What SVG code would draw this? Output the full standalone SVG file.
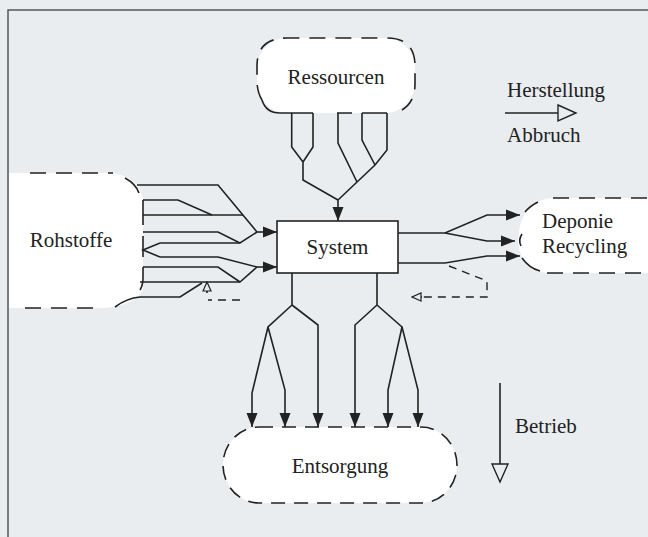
<svg xmlns="http://www.w3.org/2000/svg" width="648" height="537" viewBox="0 0 648 537">
<style>
.t{font-family:"Liberation Serif","Times New Roman",serif;font-size:21px;fill:#222}
.ln{fill:none;stroke:#222;stroke-width:1.6;stroke-linejoin:miter}
.ds{fill:none;stroke:#222;stroke-width:1.6;stroke-dasharray:16 10}
.fb{fill:none;stroke:#222;stroke-width:1.4;stroke-dasharray:8 6}
</style>
<defs>
<marker id="fa" markerUnits="userSpaceOnUse" markerWidth="15" markerHeight="12" refX="14" refY="6" orient="auto">
<path d="M0,0.5 L14,6 L0,11.5 z" fill="#222"/>
</marker>
<marker id="oa" markerUnits="userSpaceOnUse" markerWidth="21" markerHeight="20" refX="19" refY="10" orient="auto">
<path d="M1,2 L19,10 L1,18 z" fill="#e9edf0" stroke="#222" stroke-width="1.4"/>
</marker>
<marker id="sa" markerUnits="userSpaceOnUse" markerWidth="11" markerHeight="11" refX="10" refY="5.5" orient="auto">
<path d="M1,1.5 L10,5.5 L1,9.5 z" fill="#e9edf0" stroke="#222" stroke-width="1.2"/>
</marker>
</defs>
<rect x="0" y="0" width="648" height="537" fill="#e9edf0"/>
<path d="M8,537 L8,10 L648,10" fill="none" stroke="#555" stroke-width="1.5"/>

<g id="node-ressourcen">
<rect x="257" y="38" width="158" height="75" rx="30" ry="30" fill="#fff" stroke="none"/>
<path class="ds" d="M262,100 Q257,92 257,80 L257,66 Q257,38 287,38 L387,38 Q415,38 415,66 L415,84 Q415,102 402,110"/>
<text class="t" x="336" y="84" text-anchor="middle">Ressourcen</text>
</g>

<g id="node-rohstoffe">
<path d="M9,173 L113,173 Q140,178 143,200 L143,290 Q135,305 105,308 L9,308 Z" fill="#fff"/>
<path class="ds" d="M30,173 L113,173"/>
<path class="ds" d="M25,308 L103,308"/>
<path class="ln" d="M125,178 Q136,184 139,193"/>
<path class="ln" d="M143,200 L143,225 M143,236 L143,257 M143,267 L143,278 Q143,285 140,290"/>
<path class="ln" d="M115,307 Q127,298 140,297 L180,297 L202,283"/>
<text class="t" x="71" y="247" text-anchor="middle">Rohstoffe</text>
</g>

<g id="node-system">
<rect x="277" y="221" width="121" height="52" fill="#fff" stroke="#222" stroke-width="1.6"/>
<text class="t" x="337.5" y="254" text-anchor="middle">System</text>
</g>

<g id="node-deponie">
<path d="M553,198 L648,198 L648,273 L547,273 Q520,270 518,240 Q520,200 553,198 Z" fill="#fff"/>
<path class="ds" d="M553,198 L648,198"/>
<path class="ds" d="M547,273 L648,273"/>
<path class="ln" d="M538,202 Q530,206 525,212"/>
<path class="ln" d="M522,234 Q518,240 521,246"/>
<path class="ln" d="M522,258 Q529,268 540,271"/>
<text class="t" x="542" y="228">Deponie</text>
<text class="t" x="542" y="253">Recycling</text>
</g>

<g id="node-entsorgung">
<rect x="223" y="427" width="234" height="76" rx="36" ry="38" fill="#fff" stroke="#222" stroke-width="1.6" stroke-dasharray="14 9"/>
<text class="t" x="340" y="473" text-anchor="middle">Entsorgung</text>
</g>

<g id="legend">
<text class="t" x="507" y="97">Herstellung</text>
<path class="ln" d="M505,113 L576,113" marker-end="url(#oa)"/>
<text class="t" x="507" y="142">Abbruch</text>
<path class="ln" d="M500,383 L500,482" marker-end="url(#oa)"/>
<text class="t" x="515" y="433">Betrieb</text>
</g>

<g id="connectors">
<!-- Ressourcen to System -->
<path class="ln" d="M262,100 Q266,113 280,113 L313,113 M337,113 L352,113 M362,113 L387,113"/>
<path class="ln" d="M291.7,113 L291.7,147 L303,162 M313,113 L313,147 L303,162 M303,162 L303,180 L338,200"/>
<path class="ln" d="M338,113 L338,143 L357,182 M362,113 L362,140 L375,165 M387,113 L387,150 L375,165 L338,200"/>
<path class="ln" d="M338,200 L338,221" marker-end="url(#fa)"/>
<!-- Rohstoffe to System -->
<path class="ln" d="M137,185 L218,185 L257,232"/>
<path class="ln" d="M143,200 L178,200 L212,215"/>
<path class="ln" d="M143,215 L243,215"/>
<path class="ln" d="M143,232 L218,232 L240,243"/>
<path class="ln" d="M160,243 L240,243 L257,232"/>
<path class="ln" d="M160,243 L143,250 L160,257"/>
<path class="ln" d="M257,232 L277,232" marker-end="url(#fa)"/>
<path class="ln" d="M160,257 L218,257 L257,267"/>
<path class="ln" d="M143,267 L218,267 L240,282"/>
<path class="ln" d="M140,282 L240,282 L257,267"/>
<path class="ln" d="M257,267 L277,267" marker-end="url(#fa)"/>
<path class="fb" d="M240,300 L208,300"/>
<path class="ln" d="M207,293 L207,282" marker-end="url(#sa)"/>
<!-- System to Deponie -->
<path class="ln" d="M398,233 L445,233 L487,215 L520,215" marker-end="url(#fa)"/>
<path class="ln" d="M445,233 L487,241 L515,241" marker-end="url(#fa)"/>
<path class="ln" d="M398,263 L445,263 L487,256 L520,256" marker-end="url(#fa)"/>
<path class="fb" d="M449,266 L487,281 L487,297 L421,297"/>
<path class="ln" d="M422,297 L412,297" marker-end="url(#sa)"/>
<!-- System to Entsorgung -->
<path class="ln" d="M292,273 L292,305 L268,327 L252,393 L252,427" marker-end="url(#fa)"/>
<path class="ln" d="M268,327 L285,390 L285,427" marker-end="url(#fa)"/>
<path class="ln" d="M292,305 L318,325 L318,427" marker-end="url(#fa)"/>
<path class="ln" d="M377,273 L377,305 L355,325 L355,427" marker-end="url(#fa)"/>
<path class="ln" d="M377,305 L402,327 L388,390 L388,427" marker-end="url(#fa)"/>
<path class="ln" d="M402,327 L418,390 L418,427" marker-end="url(#fa)"/>
</g>
</svg>
